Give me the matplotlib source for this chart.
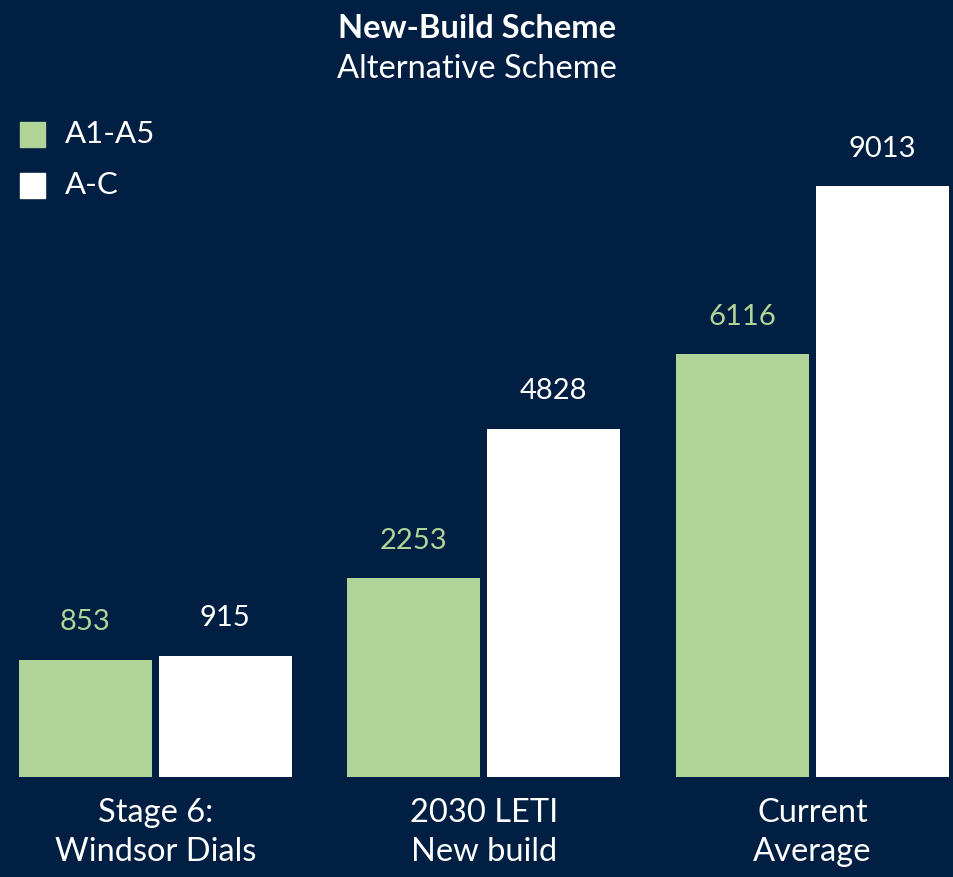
import matplotlib
matplotlib.use("Agg")
import matplotlib.pyplot as plt
import numpy as np

# chart data
categories = ["Stage 6:\nWindsor Dials", "2030 LETI\nNew build", "Current\nAverage"]
series_names = ["A1-A5", "A-C"]
a1_a5 = [853, 2253, 6116]
a_c = [915, 4828, 9013]

bg = "#001f42"
green = "#b0d498"
white = "#ffffff"

plt.rcParams['font.family'] = ['Lato', 'DejaVu Sans']

fig = plt.figure(figsize=(9.54, 8.77), dpi=100, facecolor=bg)
ax = fig.add_axes([0, 100 / 877, 1, 677 / 877])
ax.set_facecolor(bg)

base = -1170
x = np.arange(len(categories))
w = 0.405
off = 0.213

ax.bar(x - off, np.array(a1_a5) - base, w, bottom=base, color=green)
ax.bar(x + off, np.array(a_c) - base, w, bottom=base, color=white)

# value labels above bars
for i, v in enumerate(a1_a5):
    ax.text(x[i] - off, v + 650, str(v), color=green, fontsize=21,
            ha='center', va='center')
for i, v in enumerate(a_c):
    ax.text(x[i] + off, v + 650, str(v), color=white, fontsize=21,
            ha='center', va='center')

ax.set_xlim(-0.473, 2.431)
ax.set_ylim(base, 10502)
ax.axis('off')

# category labels under each group
for i, c in enumerate(categories):
    ax.text(x[i], base - 360, c, color=white, fontsize=23.5, ha='center',
            va='top', linespacing=1.38)

# title
fig.text(0.5, 1 - 29 / 877, "New-Build Scheme", color=white, fontsize=23.5,
         fontweight='bold', ha='center', va='center')
fig.text(0.5, 1 - 69 / 877, "Alternative Scheme", color=white, fontsize=23.5,
         ha='center', va='center')

# legend
for j, (name, col) in enumerate(zip(series_names, [green, white])):
    yc = 1 - (134 + j * 51) / 877
    fig.patches.append(plt.Rectangle((20 / 954, yc - 12.5 / 877), 25 / 954, 25 / 877,
                                     transform=fig.transFigure, color=col))
    fig.text(65 / 954, yc, name, color=white, fontsize=22.5, ha='left', va='center')

fig.savefig("out.png", dpi=100, facecolor=bg)
